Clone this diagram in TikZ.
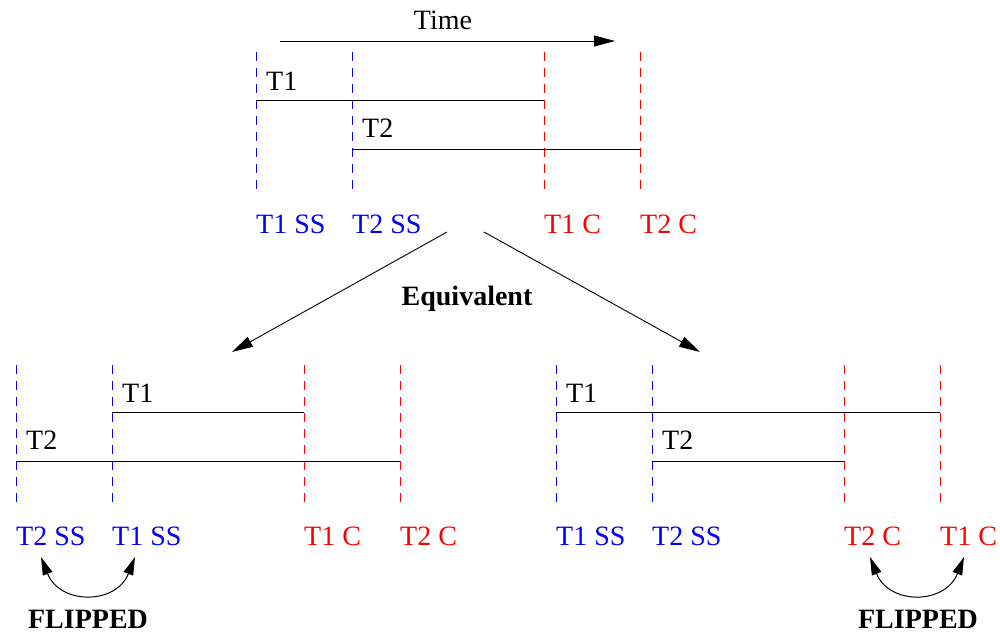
\documentclass[tikz,border=0pt]{standalone}
\usepackage{fontspec}
\setmainfont{Liberation Serif}
\usetikzlibrary{arrows.meta}
\begin{document}
\begin{tikzpicture}[x=1pt,y=-1pt,
  lbl/.style={font=\fontsize{28}{30}\selectfont, inner sep=0pt, anchor=base west},
  ss/.style={lbl, text=blue},
  cc/.style={lbl, text=red},
  bold/.style={font=\fontsize{28}{30}\selectfont\bfseries, inner sep=0pt, anchor=base},
  bdash/.style={blue, dash pattern=on 9pt off 7pt, line width=0.8pt},
  rdash/.style={red, dash pattern=on 9pt off 7pt, line width=0.8pt},
  spanline/.style={line width=1pt},
  bigarrow/.style={-{Triangle[length=21pt,width=11pt]}, line width=0.9pt},
  fliparrow/.style={{Triangle[length=18pt,width=10pt]}-{Triangle[length=18pt,width=10pt]}, line width=1pt}]
\useasboundingbox (0,0) rectangle (1000,634);

% ---------- top group ----------
\coordinate (ta1) at (256,52);  \coordinate (tb1) at (256,196);
\coordinate (ta2) at (352,52);  \coordinate (tb2) at (352,196);
\coordinate (ta3) at (544,52);  \coordinate (tb3) at (544,196);
\coordinate (ta4) at (640,52);  \coordinate (tb4) at (640,196);
\draw[bdash] (ta1) -- (tb1);
\draw[bdash] (ta2) -- (tb2);
\draw[rdash] (ta3) -- (tb3);
\draw[rdash] (ta4) -- (tb4);
\coordinate (tT1s) at (256,100); \coordinate (tT1e) at (544,100);
\coordinate (tT2s) at (352,149); \coordinate (tT2e) at (640,149);
\draw[spanline] (tT1s) -- (tT1e);
\draw[spanline] (tT2s) -- (tT2e);
\node[lbl] (tT1) at (266,90) {T1};
\node[lbl] (tT2) at (362,137) {T2};
\node[ss] (tl1) at (256,233) {T1 SS};
\node[ss] (tl2) at (352,233) {T2 SS};
\node[cc] (tl3) at (544,233) {T1 C};
\node[cc] (tl4) at (640,233) {T2 C};
\coordinate (timeA) at (280,41); \coordinate (timeB) at (615,41);
\draw[bigarrow] (timeA) -- (timeB);
\node[lbl, anchor=base] (time) at (443,30) {Time};

% ---------- equivalent arrows ----------
\coordinate (eqA) at (447,232); \coordinate (eqL) at (232,352);
\coordinate (eqB) at (484,232); \coordinate (eqR) at (700,352);
\draw[bigarrow] (eqA) -- (eqL);
\draw[bigarrow] (eqB) -- (eqR);
\node[bold] (equiv) at (467,305) {Equivalent};

% ---------- bottom left group ----------
\coordinate (la1) at (16,365);  \coordinate (lb1) at (16,508);
\coordinate (la2) at (112,365); \coordinate (lb2) at (112,508);
\coordinate (la3) at (304,365); \coordinate (lb3) at (304,508);
\coordinate (la4) at (400,365); \coordinate (lb4) at (400,508);
\draw[bdash] (la1) -- (lb1);
\draw[bdash] (la2) -- (lb2);
\draw[rdash] (la3) -- (lb3);
\draw[rdash] (la4) -- (lb4);
\coordinate (lT1s) at (112,412); \coordinate (lT1e) at (304,412);
\coordinate (lT2s) at (16,461);  \coordinate (lT2e) at (400,461);
\draw[spanline] (lT1s) -- (lT1e);
\draw[spanline] (lT2s) -- (lT2e);
\node[lbl] (lT1) at (122,402) {T1};
\node[lbl] (lT2) at (26,449) {T2};
\node[ss] (ll1) at (16,545) {T2 SS};
\node[ss] (ll2) at (112,545) {T1 SS};
\node[cc] (ll3) at (304,545) {T1 C};
\node[cc] (ll4) at (400,545) {T2 C};
\coordinate (lfa) at (41,557); \coordinate (lfb) at (135,557);
\draw[fliparrow] (lfa) .. controls (60,605) and (116,605) .. (lfb);
\node[bold] (lflip) at (88,628) {FLIPPED};

% ---------- bottom right group ----------
\coordinate (ra1) at (556,365); \coordinate (rb1) at (556,508);
\coordinate (ra2) at (652,365); \coordinate (rb2) at (652,508);
\coordinate (ra3) at (844,365); \coordinate (rb3) at (844,508);
\coordinate (ra4) at (940,365); \coordinate (rb4) at (940,508);
\draw[bdash] (ra1) -- (rb1);
\draw[bdash] (ra2) -- (rb2);
\draw[rdash] (ra3) -- (rb3);
\draw[rdash] (ra4) -- (rb4);
\coordinate (rT1s) at (556,412); \coordinate (rT1e) at (940,412);
\coordinate (rT2s) at (652,461); \coordinate (rT2e) at (844,461);
\draw[spanline] (rT1s) -- (rT1e);
\draw[spanline] (rT2s) -- (rT2e);
\node[lbl] (rT1) at (566,402) {T1};
\node[lbl] (rT2) at (662,449) {T2};
\node[ss] (rl1) at (556,545) {T1 SS};
\node[ss] (rl2) at (652,545) {T2 SS};
\node[cc] (rl3) at (844,545) {T2 C};
\node[cc] (rl4) at (940,545) {T1 C};
\coordinate (rfa) at (870,557); \coordinate (rfb) at (964,557);
\draw[fliparrow] (rfa) .. controls (889,605) and (945,605) .. (rfb);
\node[bold] (rflip) at (918,628) {FLIPPED};
\end{tikzpicture}
\end{document}
